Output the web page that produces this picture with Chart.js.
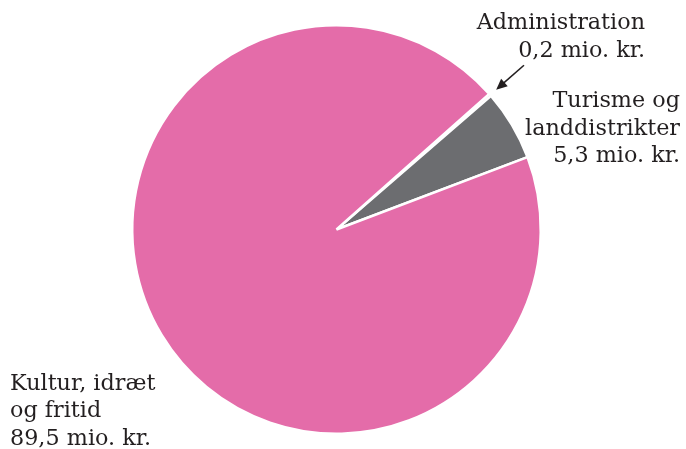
<!DOCTYPE html>
<html>
<head>
<meta charset="utf-8">
<script src="https://cdn.jsdelivr.net/npm/chart.js@4"></script>
<style>
  html, body { margin: 0; padding: 0; background: #fff; }
  #wrap { position: relative; width: 686px; height: 449px; }
  #chart { position: absolute; left: 0; top: 0; }
  .lbl { position: absolute; font-family: "DejaVu Serif", serif; font-size: 22.3px; line-height: 27.5px; color: #231f20; white-space: nowrap; }
</style>
</head>
<body>
<div id="wrap">
  <canvas id="chart" width="686" height="449"></canvas>
  <div class="lbl" id="lbl0" style="right:41px; top:8px; text-align:right;"></div>
  <div class="lbl" id="lbl1" style="right:6px; top:86px; text-align:right;"></div>
  <div class="lbl" id="lbl2" style="left:10px; top:368.5px; text-align:left;"></div>
</div>
<script>
// categories (label lines) and values, mio. kr.
const categories = [
  ['Administration'],
  ['Turisme og', 'landdistrikter'],
  ['Kultur, idræt', 'og fritid'],
];
const values = [0.2, 5.3, 89.5];
const colors = ['#e46ca9', '#6c6d70', '#e46ca9'];
const unit = 'mio. kr.';

// labels as html text
categories.forEach((lines, i) => {
  const txt = values[i].toFixed(1).replace('.', ',') + ' ' + unit;
  document.getElementById('lbl' + i).innerHTML = lines.concat([txt]).join('<br>');
});

// small arrow pointing at the administration slice
const arrowPlugin = {
  id: 'arrow',
  afterDatasetsDraw(chart) {
    const arc = chart.getDatasetMeta(0).data[0];
    if (!arc) return;
    const { x, y, startAngle, endAngle, outerRadius } = arc.getProps(['x', 'y', 'startAngle', 'endAngle', 'outerRadius'], true);
    const a = (startAngle + endAngle) / 2;
    const hx = x + Math.cos(a) * (outerRadius + 8);
    const hy = y + Math.sin(a) * (outerRadius + 8);
    const tx = x + Math.cos(a) * (outerRadius + 45);
    const ty = y + Math.sin(a) * (outerRadius + 45);
    const ctx = chart.ctx;
    ctx.save();
    ctx.strokeStyle = '#231f20';
    ctx.fillStyle = '#231f20';
    ctx.lineWidth = 1.6;
    ctx.beginPath();
    ctx.moveTo(tx, ty);
    ctx.lineTo(hx + Math.cos(a) * 6, hy + Math.sin(a) * 6);
    ctx.stroke();
    // head
    const px = -Math.sin(a), py = Math.cos(a);
    ctx.beginPath();
    ctx.moveTo(hx, hy);
    ctx.lineTo(hx + Math.cos(a) * 11 + px * 5, hy + Math.sin(a) * 11 + py * 5);
    ctx.lineTo(hx + Math.cos(a) * 11 - px * 5, hy + Math.sin(a) * 11 - py * 5);
    ctx.closePath();
    ctx.fill();
    ctx.restore();
  }
};

new Chart(document.getElementById('chart'), {
  type: 'pie',
  data: {
    labels: categories.map(c => c.join(' ')),
    datasets: [{
      data: values,
      backgroundColor: colors,
      borderColor: '#ffffff',
      borderWidth: 2.5,
    }]
  },
  options: {
    responsive: false,
    animation: false,
    rotation: 48.4,
    layout: { padding: { left: 131, top: 24, right: 144, bottom: 14 } },
    plugins: {
      legend: { display: false },
      tooltip: { enabled: false },
    }
  },
  plugins: [arrowPlugin]
});
</script>
</body>
</html>
